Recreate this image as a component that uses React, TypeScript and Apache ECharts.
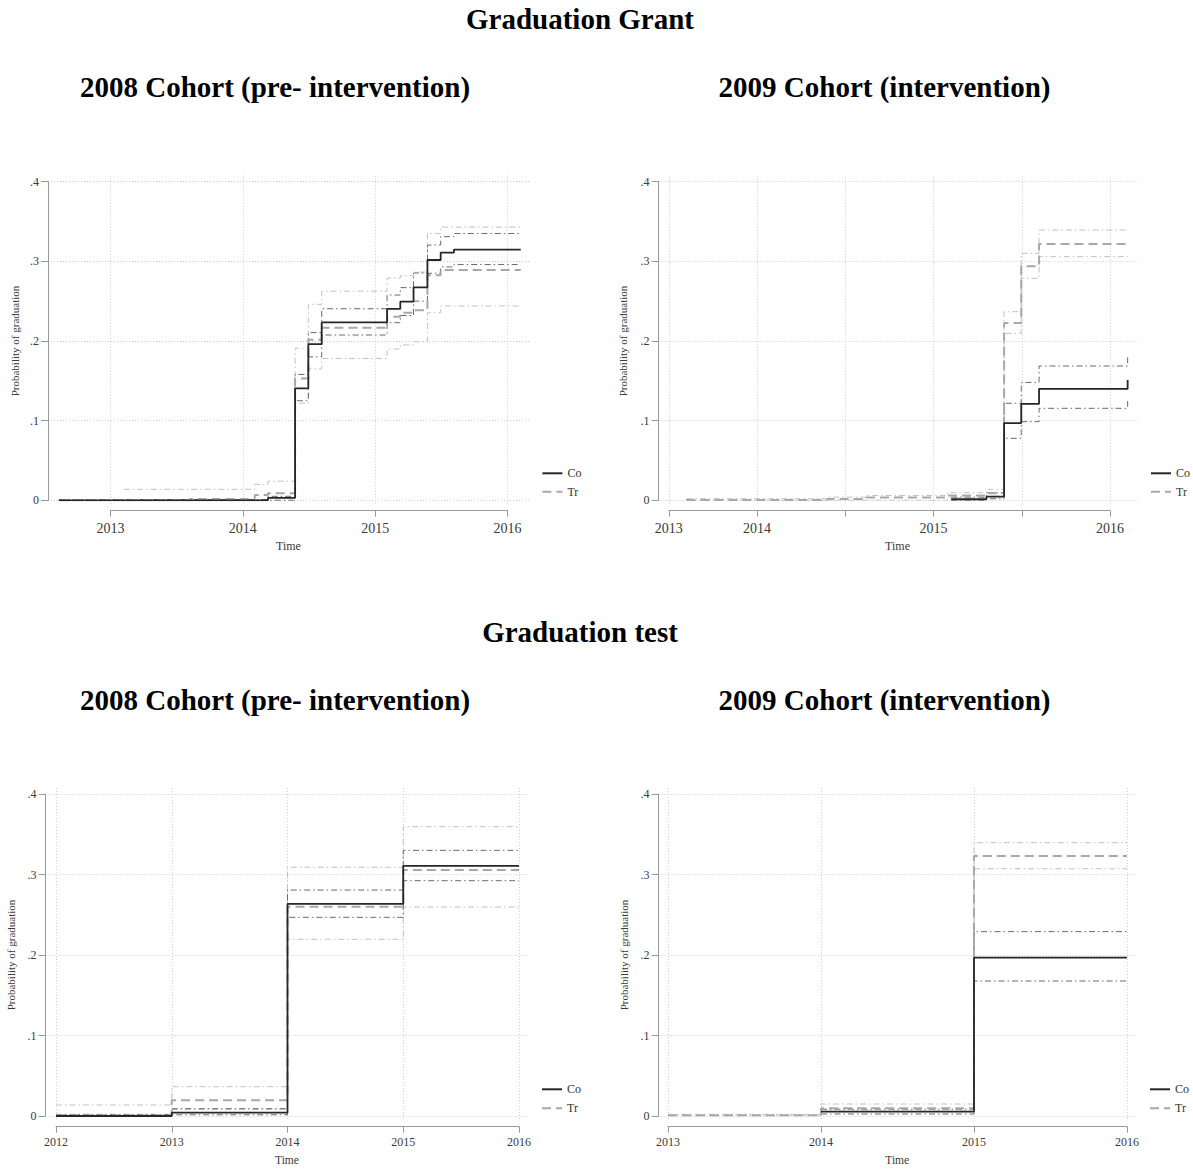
import React, { useEffect, useRef } from "react";
import * as echarts from "echarts";

type Pt = [number, number];

// ---------- Graduation Grant, 2008 cohort (pre-intervention) ----------
const grant08Control: Pt[] = [[2012.61, 0], [2014.19, 0.003], [2014.395, 0.1406], [2014.495, 0.196], [2014.596, 0.2234], [2015.09, 0.2403], [2015.19, 0.2494], [2015.29, 0.2674], [2015.395, 0.3017], [2015.495, 0.311], [2015.595, 0.3146], [2016.1, 0.3146]];
const grant08Treatment: Pt[] = [[2012.61, 0], [2013.6, 0.0015], [2014.09, 0.0065], [2014.19, 0.009], [2014.395, 0.153], [2014.495, 0.2015], [2014.596, 0.2165], [2015.09, 0.2305], [2015.19, 0.2355], [2015.29, 0.2385], [2015.395, 0.2825], [2015.495, 0.289], [2016.1, 0.289]];
const grant08ControlHi: Pt[] = [[2012.61, 0.001], [2014.19, 0.005], [2014.395, 0.158], [2014.495, 0.2105], [2014.596, 0.2405], [2015.09, 0.2577], [2015.19, 0.267], [2015.29, 0.2854], [2015.395, 0.3205], [2015.495, 0.331], [2015.595, 0.335], [2016.1, 0.335]];
const grant08ControlLo: Pt[] = [[2012.61, 0], [2014.395, 0.125], [2014.495, 0.18], [2014.596, 0.2075], [2015.09, 0.223], [2015.19, 0.232], [2015.29, 0.25], [2015.395, 0.285], [2015.495, 0.293], [2015.595, 0.296], [2016.1, 0.296]];
const grant08TreatmentHi: Pt[] = [[2013.1, 0.0138], [2014.09, 0.02], [2014.19, 0.024], [2014.395, 0.191], [2014.495, 0.246], [2014.596, 0.2625], [2015.09, 0.279], [2015.19, 0.282], [2015.29, 0.2865], [2015.395, 0.335], [2015.495, 0.343], [2016.1, 0.345]];
const grant08TreatmentLo: Pt[] = [[2012.61, 0], [2014.395, 0.122], [2014.495, 0.165], [2014.596, 0.178], [2015.09, 0.19], [2015.19, 0.195], [2015.29, 0.199], [2015.395, 0.2355], [2015.495, 0.244], [2016.1, 0.244]];
const grant08TickValues = [2013, 2014, 2015, 2016];
const grant08TickLabels = ["2013", "2014", "2015", "2016"];

// ---------- Graduation Grant, 2009 cohort (intervention) ----------
const grant09Control: Pt[] = [[2015.1, 0.0013], [2015.3, 0.0045], [2015.4, 0.097], [2015.497, 0.121], [2015.598, 0.14], [2016.1, 0.151]];
const grant09Treatment: Pt[] = [[2013.6, 0.0005], [2014.4, 0.0015], [2014.62, 0.0035], [2015.08, 0.006], [2015.3, 0.009], [2015.4, 0.2226], [2015.497, 0.294], [2015.598, 0.3218], [2016.1, 0.3218]];
const grant09ControlHi: Pt[] = [[2015.1, 0.004], [2015.3, 0.0095], [2015.4, 0.1218], [2015.497, 0.148], [2015.598, 0.1686], [2016.1, 0.1795]];
const grant09ControlLo: Pt[] = [[2015.1, 0], [2015.3, 0.002], [2015.4, 0.0778], [2015.497, 0.0987], [2015.598, 0.1155], [2016.1, 0.1247]];
const grant09TreatmentHi: Pt[] = [[2013.6, 0.002], [2014.4, 0.004], [2014.62, 0.006], [2015.08, 0.0096], [2015.3, 0.0138], [2015.4, 0.2368], [2015.497, 0.31], [2015.598, 0.3393], [2016.1, 0.3393]];
const grant09TreatmentLo: Pt[] = [[2013.6, 0], [2015.08, 0.003], [2015.3, 0.005], [2015.4, 0.2096], [2015.497, 0.2787], [2015.598, 0.3059], [2016.1, 0.3059]];
const grant09TickValues = [2013.5, 2014, 2014.5, 2015, 2015.5, 2016];
const grant09TickLabels = ["2013", "2014", "", "2015", "", "2016"];

// ---------- Graduation test, 2008 cohort (pre-intervention) ----------
const test08Control: Pt[] = [[2012, 0], [2013, 0.0041], [2014, 0.2634], [2015, 0.3106], [2016, 0.3106]];
const test08Treatment: Pt[] = [[2012, 0.001], [2013, 0.0195], [2014, 0.26], [2015, 0.3056], [2016, 0.3056]];
const test08ControlHi: Pt[] = [[2012, 0.002], [2013, 0.0091], [2014, 0.2807], [2015, 0.33], [2016, 0.33]];
const test08ControlLo: Pt[] = [[2012, 0], [2013, 0.0015], [2014, 0.2468], [2015, 0.2923], [2016, 0.2923]];
const test08TreatmentHi: Pt[] = [[2012, 0.0137], [2013, 0.0364], [2014, 0.309], [2015, 0.3594], [2016, 0.3594]];
const test08TreatmentLo: Pt[] = [[2012, 0], [2013, 0.008], [2014, 0.2195], [2015, 0.2596], [2016, 0.2596]];
const test08TickValues = [2012, 2013, 2014, 2015, 2016];
const test08TickLabels = ["2012", "2013", "2014", "2015", "2016"];

// ---------- Graduation test, 2009 cohort (intervention) ----------
const test09Control: Pt[] = [[2014, 0.0054], [2015, 0.1967], [2016, 0.1967]];
const test09Treatment: Pt[] = [[2013, 0.001], [2014, 0.0095], [2015, 0.323], [2016, 0.323]];
const test09ControlHi: Pt[] = [[2014, 0.0085], [2015, 0.229], [2016, 0.229]];
const test09ControlLo: Pt[] = [[2014, 0.0025], [2015, 0.1677], [2016, 0.1677]];
const test09TreatmentHi: Pt[] = [[2013, 0.002], [2014, 0.0149], [2015, 0.3395], [2016, 0.3395]];
const test09TreatmentLo: Pt[] = [[2013, 0], [2014, 0.006], [2015, 0.3072], [2016, 0.3072]];
const test09TickValues = [2013, 2014, 2015, 2016];
const test09TickLabels = ["2013", "2014", "2015", "2016"];

// ---------- shared ----------
const yTickLabels = ["0", ".1", ".2", ".3", ".4"];
const seriesNames = ["Control", "Treatment"];
const legendLabels = ["Co", "Tr"];
const yTitle = "Probability of graduation";
const xTitle = "Time";
const sectionTitles = ["Graduation Grant", "Graduation test"];
const cohortTitles = ["2008 Cohort (pre- intervention)", "2009 Cohort (intervention)"];

const FONT = "'Liberation Serif', 'Times New Roman', Times, serif";
const W = 1193;
const H = 1169;

const panelData = [
  { control: grant08Control, treat: grant08Treatment, cHi: grant08ControlHi, cLo: grant08ControlLo, tHi: grant08TreatmentHi, tLo: grant08TreatmentLo, ticks: grant08TickValues, labels: grant08TickLabels, interval: 1 },
  { control: grant09Control, treat: grant09Treatment, cHi: grant09ControlHi, cLo: grant09ControlLo, tHi: grant09TreatmentHi, tLo: grant09TreatmentLo, ticks: grant09TickValues, labels: grant09TickLabels, interval: 0.5 },
  { control: test08Control, treat: test08Treatment, cHi: test08ControlHi, cLo: test08ControlLo, tHi: test08TreatmentHi, tLo: test08TreatmentLo, ticks: test08TickValues, labels: test08TickLabels, interval: 1 },
  { control: test09Control, treat: test09Treatment, cHi: test09ControlHi, cLo: test09ControlLo, tHi: test09TreatmentHi, tLo: test09TreatmentLo, ticks: test09TickValues, labels: test09TickLabels, interval: 1 },
];

const layouts = [
  { left: 48, right: 529, top: 181.7, bottom: 500.3, tickLeft: 110.5, tickRight: 507.5, axisY: 510.7, tickFont: 14, xNameFont: 12, xNameGap: 40, yNameGap: 28, legendX: 541.4, legendY: 473.3, legendStep: 18.4 },
  { left: 658.6, right: 1136.5, top: 181.7, bottom: 500.3, tickLeft: 668.75, tickRight: 1110, axisY: 510.7, tickFont: 14, xNameFont: 12, xNameGap: 40, yNameGap: 29.7, legendX: 1150, legendY: 473.3, legendStep: 18.4 },
  { left: 45.6, right: 528.3, top: 794, bottom: 1116, tickLeft: 56, tickRight: 519, axisY: 1126.7, tickFont: 12, xNameFont: 11.5, xNameGap: 37.5, yNameGap: 29, legendX: 541, legendY: 1089.3, legendStep: 19 },
  { left: 658.6, right: 1135.8, top: 794, bottom: 1116, tickLeft: 668, tickRight: 1127, axisY: 1126.7, tickFont: 12, xNameFont: 11.5, xNameGap: 37.5, yNameGap: 29.6, legendX: 1149, legendY: 1089.3, legendStep: 19 },
];

const titleLayout = [
  { text: sectionTitles[0], x: 580, y: 19 },
  { text: cohortTitles[0], x: 275, y: 87 },
  { text: cohortTitles[1], x: 884.5, y: 87 },
  { text: sectionTitles[1], x: 580, y: 632 },
  { text: cohortTitles[0], x: 275, y: 700 },
  { text: cohortTitles[1], x: 884.5, y: 700 },
];

const AXIS_COLOR = "#9a9a9a";
const GRID_COLOR = "#cdcdcd";
const LABEL_COLOR = "#3a3a3a";

function buildOption() {
  const grid: any[] = [];
  const xAxis: any[] = [];
  const yAxis: any[] = [];
  const series: any[] = [];
  const legend: any[] = [];

  panelData.forEach((D, i) => {
    const L = layouts[i];
    const tMin = D.ticks[0];
    const tMax = D.ticks[D.ticks.length - 1];
    const pxPer = (L.tickRight - L.tickLeft) / (tMax - tMin);
    const xMin = tMin - (L.tickLeft - L.left) / pxPer;
    const xMax = tMax + (L.right - L.tickRight) / pxPer;
    const mainIdx = i * 2;
    const tickIdx = i * 2 + 1;

    grid.push({ left: L.left, top: L.top, width: L.right - L.left, height: L.bottom - L.top, containLabel: false, outerBoundsMode: "none" });
    const gTop = L.top - 6;
    const gBottom = L.bottom + 5;
    grid.push({ left: L.tickLeft, top: gTop, width: L.tickRight - L.tickLeft, height: gBottom - gTop, containLabel: false, outerBoundsMode: "none" });

    xAxis.push({
      gridIndex: mainIdx, type: "value", min: xMin, max: xMax,
      axisLine: { show: false }, axisTick: { show: false }, axisLabel: { show: false }, splitLine: { show: false },
      name: xTitle, nameLocation: "middle", nameGap: L.xNameGap,
      nameTextStyle: { fontFamily: FONT, fontSize: L.xNameFont, color: LABEL_COLOR },
    });
    xAxis.push({
      gridIndex: tickIdx, type: "value", min: tMin, max: tMax, interval: D.interval,
      offset: L.axisY - gBottom,
      axisLine: { show: true, onZero: false, lineStyle: { color: AXIS_COLOR, width: 1 } },
      axisTick: { show: true, length: 6, lineStyle: { color: AXIS_COLOR, width: 1 } },
      axisLabel: {
        fontFamily: FONT, fontSize: L.tickFont, color: LABEL_COLOR, margin: L.tickFont === 14 ? 11 : 9,
        formatter: (v: number) => {
          const k = D.ticks.findIndex((t) => Math.abs(t - v) < 1e-6);
          return k >= 0 ? D.labels[k] : "";
        },
      },
      splitLine: { show: true, lineStyle: { color: GRID_COLOR, width: 1, type: [1, 2] } },
    });

    yAxis.push({
      gridIndex: mainIdx, type: "value", min: 0, max: 0.4, interval: 0.1,
      axisLine: { show: true, onZero: false, lineStyle: { color: AXIS_COLOR, width: 1 } },
      axisTick: { show: true, length: 7, lineStyle: { color: AXIS_COLOR, width: 1 } },
      axisLabel: {
        fontFamily: FONT, fontSize: 12, color: LABEL_COLOR, margin: 9,
        formatter: (v: number) => yTickLabels[Math.round(v * 10)] ?? "",
      },
      splitLine: { show: true, lineStyle: { color: GRID_COLOR, width: 1, type: [1, 2] } },
      name: yTitle, nameLocation: "middle", nameGap: L.yNameGap,
      nameTextStyle: { fontFamily: FONT, fontSize: 11, color: LABEL_COLOR },
    });
    yAxis.push({ gridIndex: tickIdx, type: "value", min: 0, max: 1, show: false });

    const mk = (name: string, data: Pt[], color: string, width: number, type: any, z: number) => ({
      type: "line", name, xAxisIndex: mainIdx, yAxisIndex: mainIdx, data, step: "end",
      symbol: "none", showSymbol: false, silent: true, z,
      lineStyle: { color, width, type }, itemStyle: { color },
      emphasis: { disabled: true },
    });
    const dashDot = [6, 3, 1.5, 3];
    series.push(mk("Treatment 95% CI upper", D.tHi, "#c2c2c2", 1, dashDot, 2));
    series.push(mk("Treatment 95% CI lower", D.tLo, "#c2c2c2", 1, dashDot, 2));
    series.push(mk("Control 95% CI upper", D.cHi, "#6a6a6a", 1, dashDot, 3));
    series.push(mk("Control 95% CI lower", D.cLo, "#6a6a6a", 1, dashDot, 3));
    series.push(mk(seriesNames[1], D.treat, "#a8a8a8", 2, [9, 5], 4));
    series.push(mk(seriesNames[0], D.control, "#262626", 1.8, "solid", 5));

    legend.push({
      orient: "vertical", left: L.legendX, top: L.legendY - 6, padding: 0,
      itemWidth: 20, itemHeight: 12, itemGap: L.legendStep - 12,
      data: seriesNames, selectedMode: false,
      formatter: (n: string) => legendLabels[seriesNames.indexOf(n)] ?? n,
      textStyle: { fontFamily: FONT, fontSize: 12, color: "#333", lineHeight: 12 },
      itemStyle: { opacity: 0 },
    });
  });

  const graphic = titleLayout.map((t) => ({
    type: "text", x: t.x, y: t.y, silent: true,
    style: { text: t.text, fontFamily: FONT, fontSize: 29, fontWeight: "bold", fill: "#000", align: "center", verticalAlign: "middle" },
  }));

  return { animation: false, backgroundColor: "#fff", grid, xAxis, yAxis, series, legend, graphic };
}

export default function App() {
  const ref = useRef<HTMLDivElement>(null);
  useEffect(() => {
    if (!ref.current) return;
    const chart = echarts.init(ref.current, undefined, { renderer: "svg" });
    chart.setOption(buildOption() as any);
    return () => chart.dispose();
  }, []);
  return <div ref={ref} style={{ position: "fixed", left: 0, top: 0, width: W, height: H, background: "#fff" }} />;
}
